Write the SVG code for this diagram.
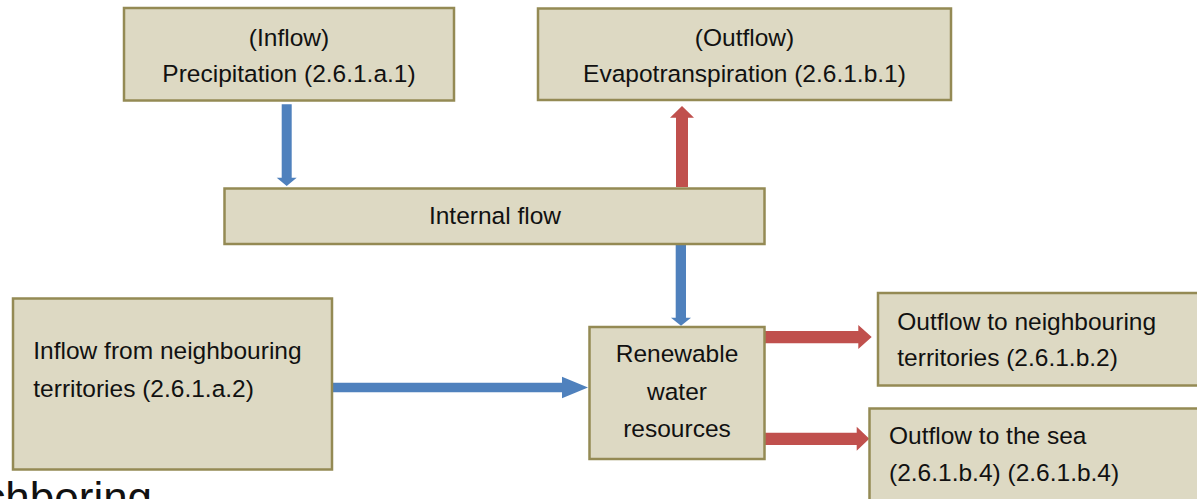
<svg xmlns="http://www.w3.org/2000/svg" width="1197" height="499" viewBox="0 0 1197 499">
<style>
.box{fill:#DDD9C3;stroke:#948A54;stroke-width:2.5}
.t{font-family:"Liberation Sans",Arial,sans-serif;font-size:24.5px;fill:#111}
.c{text-anchor:middle}
.blue{fill:#4F81BD}
.red{fill:#C0504D}
</style>
<rect width="1197" height="499" fill="#FFFFFF"/>
<text x="-16.7" y="513" style="font-family:'Liberation Sans',Arial,sans-serif;font-size:44px;fill:#111">chboring</text>
<g id="connectors">
<polygon class="blue" points="281.7,104.3 291.7,104.3 291.7,177.7 296.7,177.7 286.7,186 276.7,177.7 281.7,177.7"/>
<polygon class="red" points="676,187 676,117.7 670,117.7 682,106 694,117.7 688,117.7 688,187"/>
<polygon class="blue" points="675.7,245 686,245 686,317.7 691,317.7 681,325.7 671,317.7 675.7,317.7"/>
<polygon class="blue" points="333,382.8 562,382.8 562,376.7 588,387.5 562,398.3 562,392.3 333,392.3"/>
<polygon class="red" points="765,331 858.3,331 858.3,325 871.7,337 858.3,349 858.3,343.3 765,343.3"/>
<polygon class="red" points="762.7,432.7 856.7,432.7 856.7,426.7 869.3,438.8 856.7,450.8 856.7,445 762.7,445"/>
</g>
<g id="precipitation">
<rect class="box" x="124" y="8" width="330" height="92.5"/>
<text class="t c" x="289" y="46">(Inflow)</text>
<text class="t c" x="289" y="81.5">Precipitation (2.6.1.a.1)</text>
</g>
<g id="evapotranspiration">
<rect class="box" x="538" y="8.5" width="413" height="91.5"/>
<text class="t c" x="744.5" y="45.5">(Outflow)</text>
<text class="t c" x="744.5" y="81.5">Evapotranspiration (2.6.1.b.1)</text>
</g>
<g id="internal-flow">
<rect class="box" x="224.5" y="188.5" width="540" height="55.5"/>
<text class="t c" x="495" y="223.5">Internal flow</text>
</g>
<g id="inflow-neighbouring">
<rect class="box" x="13" y="298.5" width="319" height="171"/>
<text class="t" x="33.3" y="359">Inflow from neighbouring</text>
<text class="t" x="33.3" y="396.7">territories (2.6.1.a.2)</text>
</g>
<g id="renewable">
<rect class="box" x="589.5" y="327" width="175" height="132"/>
<text class="t c" x="677" y="362.3">Renewable</text>
<text class="t c" x="677" y="400">water</text>
<text class="t c" x="677" y="437.3">resources</text>
</g>
<g id="outflow-neighbouring">
<rect class="box" x="878" y="293" width="330" height="92.5"/>
<text class="t" x="897.3" y="330">Outflow to neighbouring</text>
<text class="t" x="897.3" y="366">territories (2.6.1.b.2)</text>
</g>
<g id="outflow-sea">
<rect class="box" x="869.5" y="408.5" width="340" height="110"/>
<text class="t" x="889" y="443.5">Outflow to the sea</text>
<text class="t" x="889" y="481">(2.6.1.b.4) (2.6.1.b.4)</text>
</g>
</svg>
